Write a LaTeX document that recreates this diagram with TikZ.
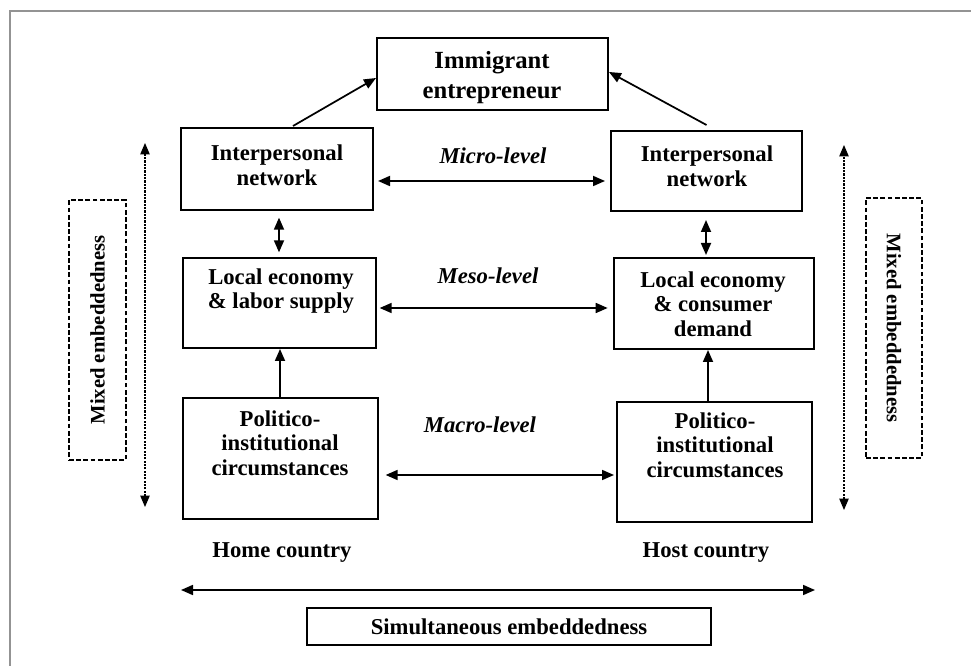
\documentclass[tikz,border=0pt]{standalone}
\usepackage{fontspec}
\setmainfont{Liberation Serif}
\usetikzlibrary{arrows.meta,calc}
\begin{document}
\begin{tikzpicture}[x=0.75pt,y=-0.75pt,
  box/.style={draw, line width=1.5pt, inner sep=0pt},
  txt/.style={align=center, font=\fontsize{17}{18.5}\selectfont\bfseries, inner sep=0pt},
  bigtxt/.style={align=center, font=\fontsize{18.5}{22.5}\selectfont\bfseries, inner sep=0pt},
  lvl/.style={font=\fontsize{17}{18.5}\selectfont\bfseries\itshape, inner sep=0pt},
  mixtxt/.style={font=\fontsize{15.5}{17}\selectfont\bfseries, inner sep=0pt},
  conn/.style={line width=1.3pt, -{Triangle[length=9pt,width=7.5pt]}},
  biconn/.style={line width=1.3pt, {Triangle[length=9pt,width=7.5pt]}-{Triangle[length=9pt,width=7.5pt]}},
  dotarrow/.style={line width=0.9pt, dash pattern=on 1.6pt off 0.9pt, {Triangle[length=8.5pt,width=7pt]}-{Triangle[length=8.5pt,width=7pt]}},
  mixbox/.style={draw, line width=1.3pt, dash pattern=on 3.6pt off 1.8pt, inner sep=0pt},
]
\useasboundingbox (0,0) rectangle (971,666);
% outer frame (partial)
\draw[gray!85, line width=0.9pt] (10,666) -- (10,11) -- (971,11);

% boxes
\node[box, minimum width=173.25pt, minimum height=54pt] (imm) at (492.5,74) {};
\node[box, minimum width=144pt, minimum height=61.5pt] (lin) at (277,169) {};
\node[box, minimum width=143.25pt, minimum height=60pt] (rin) at (706.5,171) {};
\node[box, minimum width=144.75pt, minimum height=67.5pt] (lle) at (279.5,303) {};
\node[box, minimum width=150pt, minimum height=68.25pt] (rle) at (714,303.5) {};
\node[box, minimum width=146.25pt, minimum height=90.75pt] (lpo) at (280.5,458.5) {};
\node[box, minimum width=146.25pt, minimum height=90pt] (rpo) at (714.5,462) {};
\node[mixbox, minimum width=42.75pt, minimum height=195pt] (lmix) at (97.5,330) {};
\node[mixbox, minimum width=42pt, minimum height=195pt] (rmix) at (894,328) {};
\node[box, minimum width=303pt, minimum height=27.75pt] (sim) at (509,626.5) {};

% box texts
\node[bigtxt] (immt) at (492,78) {Immigrant\\entrepreneur};
\node[txt] (lint) at (277,165) {Interpersonal\\network};
\node[txt] (rint) at (707,166) {Interpersonal\\network};
\node[txt] (llet) at (281,291) {Local economy\\\& labor supply};
\node[txt] (rlet) at (713,304) {Local economy\\\& consumer\\demand};
\node[txt] (lpot) at (280,443) {Politico-\\institutional\\circumstances};
\node[txt] (rpot) at (715,445) {Politico-\\institutional\\circumstances};
\node[mixtxt, rotate=90] (lmixt) at (97.5,330) {Mixed embeddedness};
\node[mixtxt, rotate=-90] (rmixt) at (894,328) {Mixed embeddedness};
\node[txt] (simt) at (509,627) {Simultaneous embeddedness};

% level labels
\node[lvl] (micro) at (493,156) {Micro-level};
\node[lvl] (meso) at (488,276) {Meso-level};
\node[lvl] (macro) at (480,425) {Macro-level};

% country labels
\node[txt] (home) at (282,553) {Home country};
\node[txt] (host) at (706,553) {Host country};

% connectors
\draw[conn] ($(lin.north)+(16,-1)$) -- (imm.west |- 0,78);
\draw[conn] ($(rin.north)+(0,-5)$) -- (imm.east |- 0,72);
\draw[biconn, shorten <=3pt, shorten >=3.75pt] (lin.east |- 0,181) -- (rin.west |- 0,181);
\draw[biconn, shorten <=2pt, shorten >=4pt] (lle.east |- 0,308) -- (rle.west |- 0,308);
\draw[biconn, shorten <=5pt, shorten >=1.5pt] (lpo.east |- 0,475) -- (rpo.west |- 0,475);
\draw[biconn, shorten <=5pt, shorten >=3.5pt] (lin.south -| 279,0) -- (lle.north -| 279,0);
\draw[biconn, shorten <=6pt, shorten >=1.5pt] (rin.south -| 706,0) -- (rle.north -| 706,0);
\draw[conn] (lpo.north -| 280,0) -- (lle.south -| 280,0);
\draw[conn] (rpo.north -| 708,0) -- (rle.south -| 708,0);

% dotted arrows
\coordinate (dlt) at (145,143);
\coordinate (dlb) at (145,507);
\coordinate (drt) at (844,145);
\coordinate (drb) at (844,510);
\draw[dotarrow] (dlb) -- (dlt);
\draw[dotarrow] (drb) -- (drt);

% bottom long arrow
\coordinate (bl) at (181,590);
\coordinate (br) at (815,590);
\draw[biconn] (bl) -- (br);
\end{tikzpicture}
\end{document}
